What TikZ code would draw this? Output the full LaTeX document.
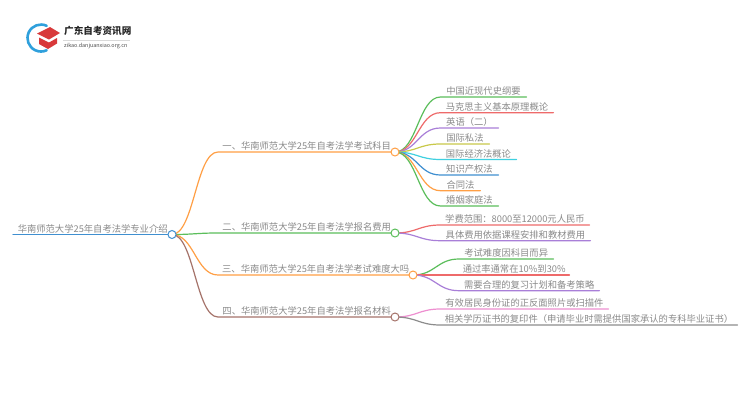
\documentclass[tikz,border=0pt]{standalone}
\usepackage{fontspec}
\usetikzlibrary{backgrounds}
\setmainfont{Noto Sans CJK SC}
\definecolor{cOrange}{HTML}{FF9F45}
\definecolor{cGreen}{HTML}{5BBE5B}
\definecolor{cRed}{HTML}{EE6A6A}
\definecolor{cPurple}{HTML}{A97FD8}
\definecolor{cOlive}{HTML}{C9C94A}
\definecolor{cCyan}{HTML}{3FD0E0}
\definecolor{cBlue}{HTML}{3F8FD0}
\definecolor{cBrown}{HTML}{A5736A}
\definecolor{cPink}{HTML}{EE8FD0}
\definecolor{cGrey}{HTML}{8C8C8C}
\definecolor{cText}{HTML}{8A8A8A}
\definecolor{cLogoBlue}{HTML}{2FA0DC}
\definecolor{cLogoRed}{HTML}{D8393A}
\tikzset{
  x=1pt,y=-1pt,
  lab/.style={anchor=south west,inner xsep=0pt,inner ysep=1.2pt,text=cText,font=\fontsize{9.3}{10}\selectfont},
  hub/.style={circle,draw=#1,fill=white,line width=1pt,minimum size=8pt,inner sep=0pt},
  wire/.style={line width=1.2pt,line cap=round},
}
\newcommand{\branch}[3]{\draw[wire,#3] (#1.center) .. controls +(22,0) and ([xshift=-22pt]#2.south west) .. (#2.south west) -- (#2.south east);}
\begin{document}
\begin{tikzpicture}
\useasboundingbox (0,0) rectangle (750,410);
% logo
\draw[line width=2.6pt,color=cLogoBlue,line cap=round] (46.7,25.8) arc[start angle=-65,end angle=-295,radius=13.5];
\fill[cLogoRed] (37,33.5) -- (50,27) -- (60,33) -- (49,39.5) -- cycle;
\fill[cLogoRed] (39,37.5) -- (49,42.5) -- (57,38) -- (57,43.5) -- (48,49) -- (39,44) -- cycle;
\node[anchor=west,inner sep=0pt,text=black!85,font=\fontsize{9.6}{10}\selectfont\bfseries] (logoT) at (64,31) {广东自考资讯网};
\draw[black!15,line width=.4pt] (63,40) -- (130,40);
\node[anchor=west,inner sep=0pt,text=black!70,font=\fontsize{5.4}{6}\selectfont] (logoS) at (64,46.5) {zikao.danjuanxiao.org.cn};
% nodes
\node[lab,minimum width=159pt] (root) at (13,234.5) {华南师范大学25年自考法学专业介绍};
\node[hub=cBlue] (h0) at (172,234.5) {};
\node[lab,minimum width=177pt] (m1) at (218,152) {一、华南师范大学25年自考法学考试科目};
\node[lab,minimum width=177pt] (m2) at (218,233) {二、华南师范大学25年自考法学报名费用};
\node[lab,minimum width=195pt] (m3) at (218,275) {三、华南师范大学25年自考法学考试难度大吗};
\node[lab,minimum width=177pt] (m4) at (218,317) {四、华南师范大学25年自考法学报名材料};
\node[hub=cOrange] (h1) at (395,152) {};
\node[hub=cGreen] (h2) at (395,233) {};
\node[hub=cOrange] (h3) at (413,275) {};
\node[hub=cBrown] (h4) at (395,317) {};
\node[lab,minimum width=85.5pt] (a1) at (440.5,97) {中国近现代史纲要};
\node[lab,minimum width=112.5pt] (a2) at (440.5,112.7) {马克思主义基本原理概论};
\node[lab,minimum width=57.5pt] (a3) at (440.5,128) {英语（二）};
\node[lab,minimum width=48.5pt] (a4) at (440.5,144) {国际私法};
\node[lab,minimum width=75.5pt] (a5) at (440.5,159.5) {国际经济法概论};
\node[lab,minimum width=57.5pt] (a6) at (440.5,175) {知识产权法};
\node[lab,minimum width=39.5pt] (a7) at (440.5,190.7) {合同法};
\node[lab,minimum width=57.5pt] (a8) at (440.5,206) {婚姻家庭法};
\node[lab,minimum width=148.5pt] (b1) at (440.5,225) {学费范围：8000至12000元人民币};
\node[lab,minimum width=149.5pt] (b2) at (440.5,240.7) {具体费用依据课程安排和教材费用};
\node[lab,minimum width=94pt] (c1) at (459,259) {考试难度因科目而异};
\node[lab,minimum width=110pt] (c2) at (459,275) {通过率通常在10\%到30\%};
\node[lab,minimum width=140pt] (c3) at (459,290.7) {需要合理的复习计划和备考策略};
\node[lab,minimum width=167.5pt] (d1) at (440.5,309) {有效居民身份证的正反面照片或扫描件};
\node[lab,minimum width=296.5pt] (d2) at (440.5,325) {相关学历证书的复印件（申请毕业时需提供国家承认的专科毕业证书）};
% connectors
\begin{scope}[on background layer]
\fill[white] (0,0) rectangle (750,410);
\draw[wire,cBlue] (root.south west) -- (root.south east);
\branch{h0}{m1}{cOrange}
\branch{h0}{m2}{cGreen}
\branch{h0}{m3}{cOrange}
\branch{h0}{m4}{cBrown}
\branch{h1}{a1}{cGreen}
\branch{h1}{a2}{cRed}
\branch{h1}{a3}{cPurple}
\branch{h1}{a4}{cOlive}
\branch{h1}{a5}{cCyan}
\branch{h1}{a6}{cBlue}
\branch{h1}{a7}{cOrange}
\branch{h1}{a8}{cGreen}
\branch{h2}{b1}{cRed}
\branch{h2}{b2}{cPurple}
\branch{h3}{c1}{cGreen}
\branch{h3}{c2}{cRed}
\branch{h3}{c3}{cPurple}
\branch{h4}{d1}{cPink}
\branch{h4}{d2}{cGrey}
\end{scope}
\end{tikzpicture}
\end{document}
